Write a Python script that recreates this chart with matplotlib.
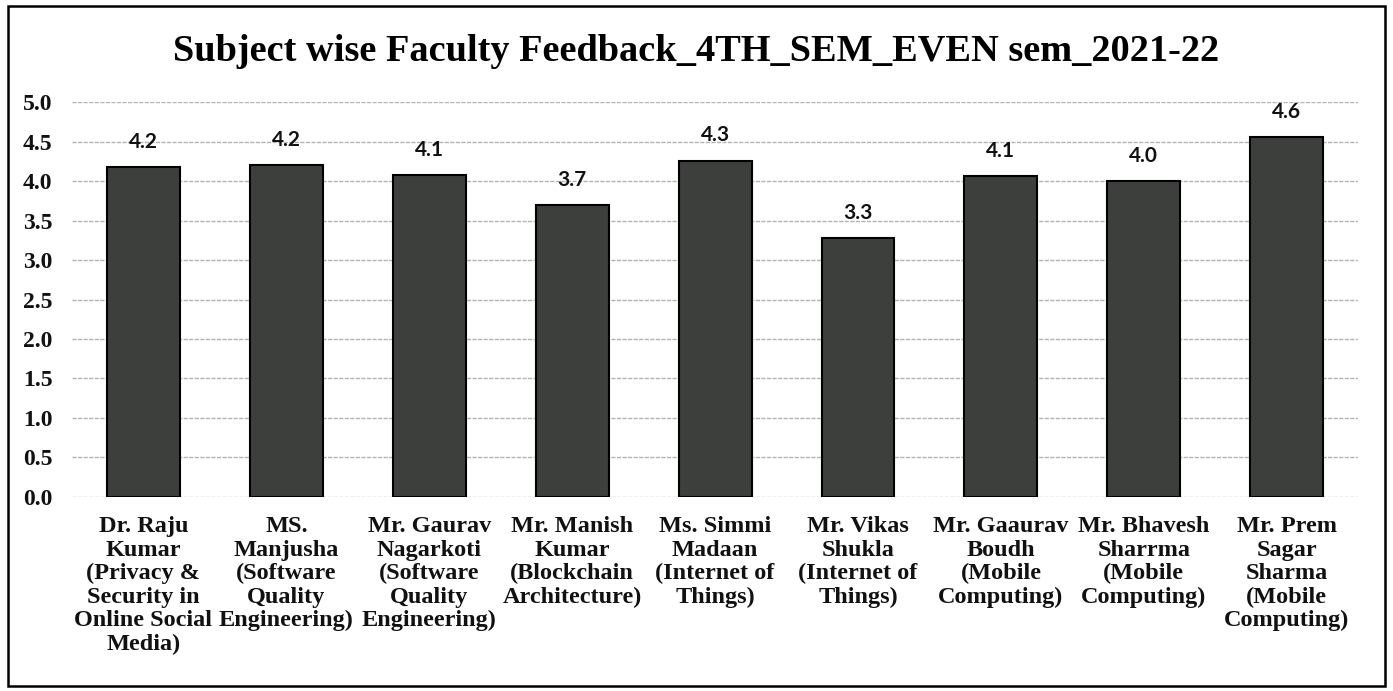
import matplotlib
matplotlib.use("Agg")
import matplotlib.pyplot as plt
from matplotlib.patches import Rectangle

categories = [
    "Dr. Raju\nKumar\n(Privacy &\nSecurity in\nOnline Social\nMedia)",
    "MS.\nManjusha\n(Software\nQuality\nEngineering)",
    "Mr. Gaurav\nNagarkoti\n(Software\nQuality\nEngineering)",
    "Mr. Manish\nKumar\n(Blockchain\nArchitecture)",
    "Ms. Simmi\nMadaan\n(Internet of\nThings)",
    "Mr. Vikas\nShukla\n(Internet of\nThings)",
    "Mr. Gaaurav\nBoudh\n(Mobile\nComputing)",
    "Mr. Bhavesh\nSharrma\n(Mobile\nComputing)",
    "Mr. Prem\nSagar\nSharma\n(Mobile\nComputing)",
]
scores = [4.18, 4.20, 4.08, 3.70, 4.26, 3.28, 4.06, 4.00, 4.56]
yticks = [0.0, 0.5, 1.0, 1.5, 2.0, 2.5, 3.0, 3.5, 4.0, 4.5, 5.0]
title = "Subject wise Faculty Feedback_4TH_SEM_EVEN sem_2021-22"

serif = ["Liberation Serif", "DejaVu Serif"]

fig = plt.figure(figsize=(13.93, 6.91), dpi=100)
fig.patch.set_facecolor("white")
ax = fig.add_axes([0.0517, 0.281, 0.9233, 0.571])

x = list(range(len(categories)))
ax.bar(x, scores, width=0.51, color="#3c3f3c", edgecolor="black", linewidth=1.5, zorder=3)
for xi, v in zip(x, scores):
    ax.annotate(f"{v:.1f}", (xi, v), xytext=(0, 11), textcoords="offset points",
                ha="center", va="bottom", fontsize=15, fontweight="bold",
                family=["Lato", "DejaVu Sans"], color="#111111", zorder=4)

ax.set_xlim(-0.5, len(categories) - 0.5)
ax.set_ylim(0, 5.0)
ax.set_yticks(yticks)
ax.set_yticklabels([f"{t:.1f}" for t in yticks], fontsize=17, fontweight="bold", family=serif)
ax.set_xticks(x)
ax.set_xticklabels(categories, fontsize=17.5, fontweight="bold", family=serif, linespacing=1.15)
ax.tick_params(axis="both", length=0, colors="#111111")
ax.tick_params(axis="x", pad=14)
ax.tick_params(axis="y", pad=14)
ax.yaxis.grid(True, color="#b3b3b3", linewidth=1.0, linestyle=(0, (3, 1)), zorder=0)
ax.set_axisbelow(True)
for s in ax.spines.values():
    s.set_visible(False)

fig.text(0.5, 0.925, title, ha="center", va="center", fontsize=27.6, fontweight="bold", family=serif)

fig.add_artist(Rectangle((0.006, 0.007), 0.988, 0.985, transform=fig.transFigure,
                         fill=False, edgecolor="black", linewidth=1.8))

fig.savefig("out.png", dpi=100, facecolor="white")
